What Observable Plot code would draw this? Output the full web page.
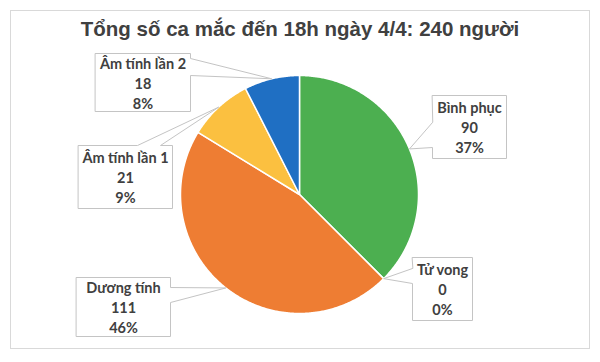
<!DOCTYPE html>
<html><head><meta charset="utf-8">
<script src="https://cdn.jsdelivr.net/npm/d3@7"></script>
<script src="https://cdn.jsdelivr.net/npm/@observablehq/plot@0.6"></script>
<style>
body{margin:0;background:#fff;}
#wrap{position:relative;width:600px;height:362px;overflow:hidden;background:#fff;}
#frame{position:absolute;left:10px;top:10px;width:580px;height:339px;border:1px solid #d9d9d9;box-sizing:border-box;}
#title{position:absolute;left:0;top:17px;width:600px;text-align:center;font:bold 20.5px "Liberation Sans",Arial,sans-serif;color:#404040;}
#chart{position:absolute;left:0;top:50px;}
</style></head><body>
<div id="wrap"><div id="frame"></div><div id="title"></div><div id="chart"></div></div>
<script>
// ---- data ----
const titleText = "Tổng số ca mắc đến 18h ngày 4/4: 240 người";
const categories = ["Bình phục", "Tử vong", "Dương tính", "Âm tính lần 1", "Âm tính lần 2"];
const values = [90, 0, 111, 21, 18];
const percentLabels = ["37%", "0%", "46%", "9%", "8%"];
const colors = ["#4caf50", "#a5a5a5", "#ee7d33", "#fbc040", "#1f6fc3"];

// ---- layout (pixels relative to pie centre) ----
const R = 119;            // pie radius in px
const W = 600, H = 312;   // svg size
const CX = 299, CY = 144; // pie centre in svg px
const boxLayout = [
  {x1: 133, x2: 207, y1: -99, y2: -36, side: "left",  w1: -72, w2: -47},
  {x1: 113, x2: 173, y1: 63,  y2: 126, side: "left",  w1: 74,  w2: 89},
  {x1: -223,x2: -129,y1: 83,  y2: 142, side: "right", w1: 93,  w2: 108},
  {x1: -221,x2: -127,y1: -49, y2: 14,  side: "top",   w1: -162,w2: -139},
  {x1: -204,x2: -109,y1: -141,y2: -83, side: "right", w1: -136,w2: -119}
];

document.getElementById("title").textContent = titleText;

const pie = d3.pie().sort(null).value(d => d)(values);

// slice polygons in radius units (y up)
const marks = [];
pie.forEach((a, i) => {
  const span = a.endAngle - a.startAngle;
  if (span <= 0) return;
  const pts = [{x: 0, y: 0}];
  const n = Math.max(2, Math.ceil(span / (Math.PI / 360)));
  for (let j = 0; j <= n; j++) {
    const t = a.startAngle + span * j / n;
    pts.push({x: Math.sin(t), y: Math.cos(t)});
  }
  marks.push(Plot.line(pts, {x: "x", y: "y", fill: colors[i], stroke: "white", strokeWidth: 1.5, curve: "linear-closed"}));
});

// callouts
const px = dx => dx / R, py = dy => -dy / R;
const labels = [];
pie.forEach((a, i) => {
  const b = boxLayout[i];
  const mid = (a.startAngle + a.endAngle) / 2;
  const anchor = {x: Math.sin(mid), y: Math.cos(mid)};
  const TL = {x: px(b.x1), y: py(b.y1)}, TR = {x: px(b.x2), y: py(b.y1)};
  const BR = {x: px(b.x2), y: py(b.y2)}, BL = {x: px(b.x1), y: py(b.y2)};
  let poly;
  if (b.side === "left") poly = [TL, TR, BR, BL, {x: px(b.x1), y: py(b.w2)}, anchor, {x: px(b.x1), y: py(b.w1)}];
  else if (b.side === "right") poly = [TL, TR, {x: px(b.x2), y: py(b.w1)}, anchor, {x: px(b.x2), y: py(b.w2)}, BR, BL];
  else poly = [TL, {x: px(b.w1), y: py(b.y1)}, anchor, {x: px(b.w2), y: py(b.y1)}, TR, BR, BL];
  marks.push(Plot.line(poly, {x: "x", y: "y", fill: "white", stroke: "#c4c4c4", strokeWidth: 1, curve: "linear-closed"}));
  labels.push({x: px((b.x1 + b.x2) / 2), y: py((b.y1 + b.y2) / 2), text: `${categories[i]}\n${values[i]}\n${percentLabels[i]}`});
});

marks.push(Plot.text(labels, {
  x: "x", y: "y", text: "text", fill: "#404040", fontSize: 14.5, fontWeight: "bold",
  fontFamily: "Lato, 'Open Sans', sans-serif", lineHeight: 1.38, textAnchor: "middle", lineAnchor: "middle"
}));

const chart = Plot.plot({
  width: W, height: H,
  margin: 0,
  x: {domain: [-CX / R, (W - CX) / R], axis: null},
  y: {domain: [-(H - CY) / R, CY / R], axis: null},
  style: {background: "transparent", overflow: "visible"},
  marks
});
document.getElementById("chart").appendChild(chart);
</script>
</body></html>
